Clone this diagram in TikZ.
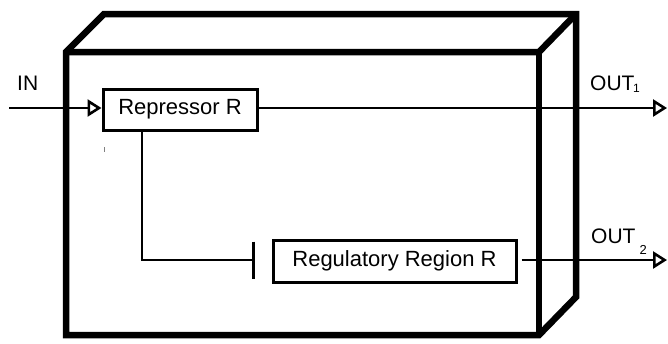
\documentclass[tikz,border=0pt]{standalone}
\usepackage{fontspec}
\setmainfont{Liberation Sans}
\usetikzlibrary{arrows.meta}
\begin{document}
\begin{tikzpicture}[x=1pt,y=-1pt,
  frame/.style={line width=6.5pt, line join=miter},
  conn/.style={line width=2.4pt},
  box/.style={draw, line width=3pt, fill=white, inner sep=0pt,
    font=\fontsize{22}{26}\selectfont},
  lab/.style={font=\fontsize{21}{24}\selectfont, inner sep=0pt, anchor=base west},
  opentip/.style={-{Triangle[open, length=14pt, width=17pt, line width=2.6pt]}},
  inhtip/.style={-{Bar[width=37pt, line width=3pt]}}
]
\useasboundingbox (0,0) rectangle (668,343);
% 3D frame
\draw[frame] (66,335) -- (66,52) -- (104,14) -- (576,14) -- (576,297) -- (539,335) -- cycle;
\draw[frame] (66,52) -- (539,52) -- (576,14);
\draw[frame] (539,52) -- (539,335);
% coordinates
\coordinate (inS) at (9,108);
\coordinate (out1) at (667,108);
\coordinate (out2) at (667,260);
\coordinate (inh) at (255,260);
% boxes
\node[box, minimum width=154pt, minimum height=41pt] (rep) at (180,109.5) {Repressor R};
\node[box, minimum width=243pt, minimum height=42pt] (reg) at (394.5,261) {Regulatory Region R};
% connectors
\draw[conn, opentip] (inS) -- (inS -| rep.west);
\draw[conn, opentip] (rep.east |- out1) -- (out1);
\draw[conn, inhtip] ([xshift=-38pt]rep.south) |- (inh);
\draw[conn, opentip] ([xshift=4pt]reg.east |- out2) -- (out2);
% labels
\node[lab] (lin) at (17,90) {IN};
\node[lab] (lo1) at (590,90) {OUT\kern-1.5pt\raisebox{-2pt}{\fontsize{12}{12}\selectfont 1}};
\node[lab] (lo2) at (591,243) {OUT\kern4pt\raisebox{-11pt}{\fontsize{13}{13}\selectfont 2}};
% stray mark
\draw[gray, line width=1pt] (104,147) -- (104,152);
\end{tikzpicture}
\end{document}
